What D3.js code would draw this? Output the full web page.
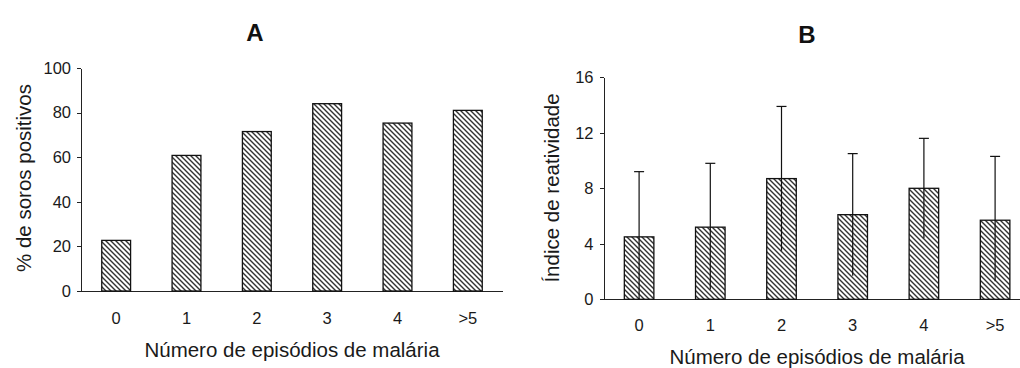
<!DOCTYPE html>
<html lang="pt">
<head>
<meta charset="UTF-8">
<title>Soros positivos e índice de reatividade</title>
<style>
    body { margin: 0; background: #fff; }
    svg { display: block; font-family: "Liberation Sans", Arial, sans-serif; }
    .axis path, .axis line { stroke: #222; stroke-width: 1px; shape-rendering: crispEdges; }
    .axis text { font-size: 16.5px; fill: #1a1a1a; }
    .bar { stroke: #111; stroke-width: 1.3px; }
    .err { stroke: #111; stroke-width: 1.2px; }
    .title { font-size: 24px; font-weight: bold; fill: #111; text-anchor: middle; }
    .label { font-size: 20.5px; fill: #1a1a1a; text-anchor: middle; }
</style>
</head>
<body>
<svg id="chart" width="1020" height="368"></svg>
<script src="https://d3js.org/d3.v7.min.js"></script>
<script>
// categorias (número de episódios de malária)
const episodes = ['0', '1', '2', '3', '4', '>5'];

// painel A: % de soros positivos
const pctPositive = [22.7, 60.8, 71.5, 84.0, 75.3, 81.0];
const ticksA = [0, 20, 40, 60, 80, 100];

// painel B: índice de reatividade (média e desvio)
const reactIndex = [4.5, 5.2, 8.7, 6.1, 8.0, 5.7];
const reactLow   = [0.0, 0.7, 3.5, 1.7, 4.4, 1.3];
const reactHigh  = [9.2, 9.8, 13.9, 10.5, 11.6, 10.3];
const ticksB = [0, 4, 8, 12, 16];

const svg = d3.select('#chart');

// padrão hachurado das barras
const defs = svg.append('defs');
const pat = defs.append('pattern')
    .attr('id', 'hatch')
    .attr('patternUnits', 'userSpaceOnUse')
    .attr('width', 5)
    .attr('height', 5);
pat.append('rect').attr('width', 5).attr('height', 5).attr('fill', '#fff');
pat.append('path')
    .attr('d', 'M-1,-1 L6,6 M-1,4 L1,6 M4,-1 L6,1')
    .attr('stroke', '#333')
    .attr('stroke-width', 1.4);

function drawPanel(opts) {
    const g = svg.append('g');

    const x = d3.scaleBand()
        .domain(episodes)
        .range(opts.xRange)
        .paddingInner(opts.pad)
        .paddingOuter(opts.pad / 2);

    const y = d3.scaleLinear()
        .domain(opts.yDomain)
        .range(opts.yRange);

    // eixo y
    g.append('g')
        .attr('class', 'axis')
        .attr('transform', `translate(${opts.xRange[0]},0)`)
        .call(d3.axisLeft(y).tickValues(opts.ticks).tickSize(4).tickSizeOuter(0).tickPadding(6));

    // linha do eixo x
    g.append('line')
        .attr('x1', opts.xRange[0] - 4)
        .attr('x2', opts.xEnd)
        .attr('y1', y(0))
        .attr('y2', y(0))
        .attr('stroke', '#222')
        .attr('shape-rendering', 'crispEdges');

    // rótulos x
    g.append('g')
        .attr('class', 'axis')
        .selectAll('text')
        .data(episodes)
        .enter().append('text')
        .attr('x', d => x(d) + x.bandwidth() / 2)
        .attr('y', opts.xTickY)
        .attr('text-anchor', 'middle')
        .text(d => d);

    // barras
    g.append('g')
        .selectAll('rect')
        .data(opts.values)
        .enter().append('rect')
        .attr('class', 'bar')
        .attr('x', (d, i) => x(episodes[i]))
        .attr('y', d => y(d))
        .attr('width', x.bandwidth())
        .attr('height', d => y(0) - y(d))
        .attr('fill', 'url(#hatch)');

    // barras de erro (só tampa superior)
    if (opts.low) {
        const eg = g.append('g');
        episodes.forEach((c, i) => {
            const cx = x(c) + x.bandwidth() / 2;
            eg.append('line').attr('class', 'err')
                .attr('x1', cx).attr('x2', cx)
                .attr('y1', y(opts.low[i])).attr('y2', y(opts.high[i]));
            eg.append('line').attr('class', 'err')
                .attr('x1', cx - 5).attr('x2', cx + 5)
                .attr('y1', y(opts.high[i])).attr('y2', y(opts.high[i]));
        });
    }

    // título do painel
    g.append('text')
        .attr('class', 'title')
        .attr('x', opts.titleX)
        .attr('y', opts.titleY)
        .text(opts.title);

    // título do eixo x
    g.append('text')
        .attr('class', 'label')
        .attr('x', opts.xLabelX)
        .attr('y', opts.xLabelY)
        .text('Número de episódios de malária');

    // título do eixo y
    g.append('text')
        .attr('class', 'label')
        .attr('transform', `translate(${opts.yLabelX},${opts.yLabelY}) rotate(-90)`)
        .attr('dy', '0.35em')
        .text(opts.yLabel);
}

drawPanel({
    title: 'A', titleX: 255, titleY: 41,
    values: pctPositive, ticks: ticksA,
    xRange: [81, 503], xEnd: 503, pad: 0.59,
    yDomain: [0, 100], yRange: [291, 68],
    xTickY: 324, xLabelX: 292, xLabelY: 357,
    yLabel: '% de soros positivos', yLabelX: 24, yLabelY: 178
});

drawPanel({
    title: 'B', titleX: 807, titleY: 43,
    values: reactIndex, low: reactLow, high: reactHigh, ticks: ticksB,
    xRange: [603.5, 1030.7], xEnd: 1020, pad: 0.585,
    yDomain: [0, 16], yRange: [299.3, 77.3],
    xTickY: 331, xLabelX: 817, xLabelY: 364,
    yLabel: 'Índice de reatividade', yLabelX: 552, yLabelY: 188
});
</script>
</body>
</html>
